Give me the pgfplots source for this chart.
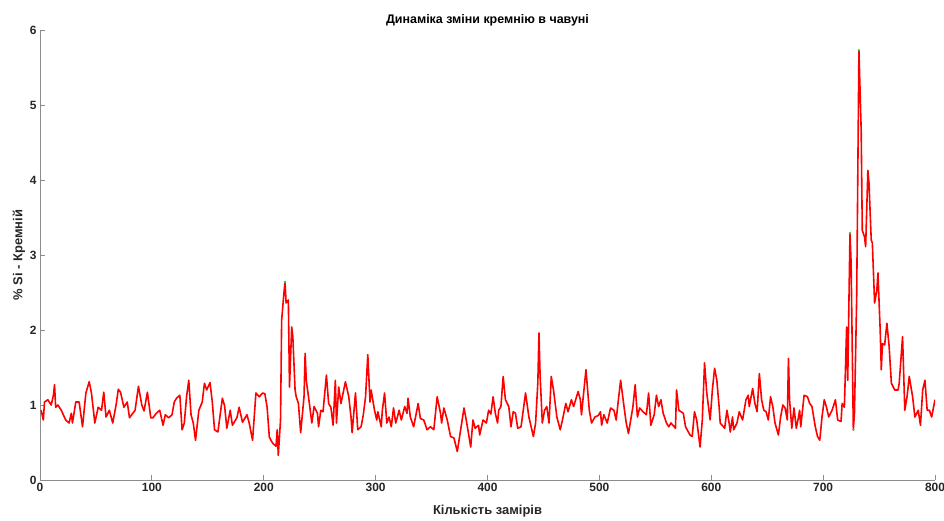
\documentclass[border=0pt]{standalone}
\usepackage{fontspec}
\setmainfont{Liberation Sans}
\usepackage{pgfplots}
\pgfplotsset{compat=1.18}
\definecolor{lineRed}{RGB}{255,0,0}
\definecolor{peakGreen}{RGB}{60,200,60}
\definecolor{axGray}{RGB}{140,140,140}
\definecolor{txt}{RGB}{38,38,38}

\begin{document}
\begin{tikzpicture}
\begin{axis}[
  name=ax,
  scale only axis, width=895bp, height=450bp,
  xmin=0, xmax=800, ymin=0, ymax=6,
  axis x line*=bottom, axis y line*=left,
  axis line style={axGray, line width=0.8bp, -},
  xtick={0,100,...,800}, ytick={0,1,...,6},
  major tick length=5bp,
  every tick/.style={axGray, line width=0.8bp},
  tick align=inside,
  /pgf/number format/assume math mode=true,
  ticklabel style={font=\fontsize{12}{14}\selectfont\bfseries, text=txt},
  title={Динаміка зміни кремнію в чавуні},
  title style={font=\fontsize{12.5}{15}\selectfont\bfseries, anchor=center,
    at={(axis description cs:0.5,1.009)}},
  xlabel={Кількість замірів},
  xlabel style={font=\fontsize{13}{15}\selectfont\bfseries, text=txt, anchor=center,
    at={(axis description cs:0.5,-0.069)}},
  ylabel={\% Si - Кремній},
  ylabel style={font=\fontsize{13}{15}\selectfont\bfseries, text=txt, anchor=center,
    at={(axis description cs:-0.0235,0.5)}},
]
\addplot[lineRed, line width=1.6bp, line join=round] coordinates {
(1,0.93)(3,0.8)(4,1.04)(7,1.07)(10,1.0)(12,1.13)(13,1.27)(14,0.97)(16,1.0)(19,0.93)
(23,0.8)(26,0.76)(28,0.89)(29,0.76)(32,1.04)(35,1.04)(38,0.71)(41,1.16)(44,1.31)(46,1.16)
(49,0.76)(52,0.97)(55,0.93)(57,1.17)(59,0.84)(62,0.93)(65,0.76)(68,1.0)(70,1.21)(72,1.17)
(75,0.97)(78,1.04)(80,0.83)(85,0.93)(88,1.25)(91,1.0)(93,0.92)(96,1.17)(99,0.83)(101,0.83)
(104,0.89)(107,0.93)(110,0.73)(112,0.87)(115,0.83)(118,0.87)(120,1.04)(122,1.09)(125,1.13)
(127,0.67)(129,0.76)(131,1.11)(133,1.33)(135,0.87)(137,0.76)(139,0.53)(142,0.93)(145,1.04)
(147,1.29)(149,1.2)(152,1.3)(154,1.04)(156,0.67)(159,0.64)(163,1.09)(165,0.99)(167,0.69)
(170,0.93)(172,0.73)(176,0.83)(178,0.97)(181,0.77)(185,0.87)(187,0.76)(190,0.53)(193,1.16)
(196,1.11)(199,1.16)(201,1.15)(203,0.97)(205,0.57)(208,0.49)(211,0.45)(212,0.67)(213,0.33)
(215,0.8)(216,2.13)(218,2.49)(219,2.64)(220,2.36)(222,2.4)(223,1.24)(225,2.04)(226,1.91)
(228,1.2)(229,1.11)(231,1.02)(233,0.63)(236,1.11)(237,1.69)(238,1.33)(240,1.11)(243,0.76)
(245,0.98)(248,0.89)(249,0.71)(251,0.93)(253,0.91)(256,1.4)(258,1.02)(260,0.97)(262,0.73)
(264,1.33)(265,0.76)(267,1.24)(269,1.02)(273,1.31)(276,1.11)(278,0.84)(279,0.63)(282,1.16)
(284,0.67)(287,0.71)(289,0.87)(291,1.11)(293,1.67)(295,1.04)(296,1.2)(299,0.93)(301,0.8)
(302,0.91)(305,0.71)(306,0.93)(308,1.16)(310,0.76)(312,0.84)(314,0.71)(316,0.96)(318,0.76)
(321,0.93)(323,0.8)(326,0.98)(328,0.89)(329,1.09)(331,0.84)(334,0.71)(338,1.02)(340,0.82)
(343,0.8)(346,0.67)(349,0.71)(352,0.67)(355,1.11)(358,0.89)(359,0.76)(361,0.96)(364,0.8)
(367,0.58)(370,0.56)(373,0.38)(376,0.67)(379,0.96)(381,0.8)(385,0.44)(387,0.8)(389,0.69)
(392,0.73)(393,0.6)(396,0.8)(399,0.76)(401,0.93)(403,0.88)(405,1.11)(407,0.89)(409,0.76)
(410,0.93)(412,0.98)(414,1.38)(416,1.07)(419,0.98)(421,0.71)(423,0.91)(425,0.89)(427,0.69)
(430,0.71)(434,1.16)(437,0.84)(441,0.58)(443,0.76)(445,1.3)(446,1.96)(447,1.4)(449,0.76)
(451,0.93)(453,0.98)(455,0.76)(457,1.38)(459,1.2)(462,0.84)(465,0.67)(467,0.8)(470,1.02)
(472,0.91)(475,1.07)(477,0.98)(481,1.18)(483,1.07)(484,0.87)(488,1.47)(491,0.93)(493,0.76)
(496,0.84)(499,0.86)(501,0.91)(502,0.73)(504,0.87)(507,0.76)(510,0.96)(513,0.93)(515,0.8)
(517,1.07)(519,1.33)(522,0.98)(524,0.76)(526,0.62)(528,0.8)(530,0.98)(532,1.27)(534,0.84)
(536,0.96)(539,0.91)(542,0.87)(544,1.16)(546,0.73)(549,0.87)(551,1.13)(553,0.98)(555,1.07)
(557,0.89)(560,0.76)(562,0.71)(564,0.76)(568,0.69)(569,1.2)(571,0.93)(575,0.89)(577,0.71)
(581,0.6)(583,0.58)(585,0.91)(587,0.8)(590,0.44)(592,0.8)(594,1.56)(596,1.16)(599,0.8)
(601,1.2)(603,1.49)(605,1.33)(607,0.98)(608,0.76)(612,0.69)(614,0.93)(616,0.76)(617,0.64)
(619,0.84)(620,0.67)(623,0.76)(625,0.91)(628,0.8)(631,1.07)(633,1.13)(634,0.98)(637,1.22)
(639,1.02)(641,0.91)(643,1.42)(645,1.07)(647,0.93)(649,0.91)(651,0.8)(653,1.11)(655,0.98)
(657,0.76)(660,0.6)(662,0.84)(664,1.0)(666,0.96)(668,0.8)(669,1.62)(670,1.07)(672,0.69)
(674,0.96)(676,0.69)(678,0.84)(679,0.93)(680,0.71)(683,1.13)(686,1.11)(688,1.02)(690,0.98)
(693,0.71)(695,0.58)(697,0.53)(699,0.84)(701,1.07)(703,0.97)(705,0.84)(708,0.93)(711,1.07)
(713,0.8)(716,0.78)(717,1.02)(719,0.97)(721,2.04)(722,1.33)(724,3.29)(725,2.9)(727,0.67)
(728,0.89)(730,2.44)(732,5.73)(734,4.67)(735,3.33)(737,3.24)(738,3.11)(740,4.13)(741,3.96)
(743,3.2)(744,3.16)(746,2.36)(748,2.53)(749,2.76)(751,2.0)(752,1.47)(753,1.82)(755,1.8)
(757,2.09)(759,1.78)(761,1.29)(764,1.2)(767,1.2)(768,1.29)(771,1.91)(773,0.93)(775,1.11)
(777,1.38)(780,1.11)(782,0.84)(785,0.93)(787,0.73)(789,1.2)(791,1.33)(793,0.93)(795,0.93)
(797,0.84)(800,1.07)
};
% green tips visible at the sharpest extremes
\addplot[only marks, mark=*, mark size=1bp, peakGreen] coordinates {
(219,2.64)(724,3.29)(727,0.67)(732,5.73)
};
\end{axis}
\pgfresetboundingbox
\path[use as bounding box] ([shift={(-40bp,-41bp)}]ax.south west)
  rectangle ([shift={(9bp,30bp)}]ax.north east);
\end{tikzpicture}
\end{document}
